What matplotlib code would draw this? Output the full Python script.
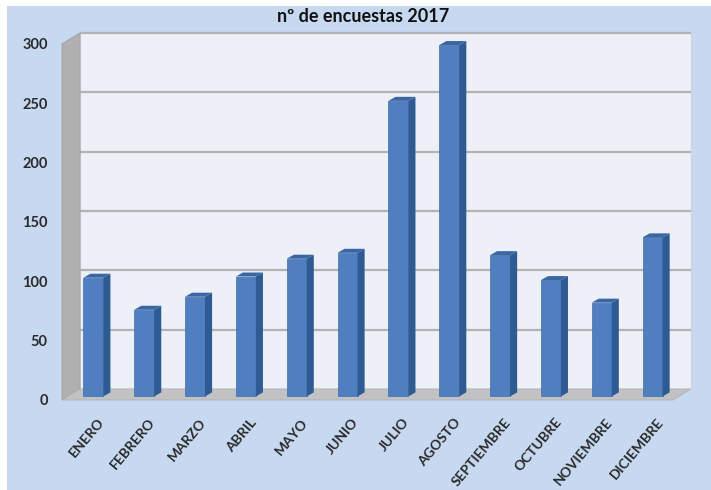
import numpy as np
import matplotlib
matplotlib.use("Agg")
import matplotlib.pyplot as plt
from matplotlib.patches import Polygon, Rectangle

# data
meses = ["ENERO", "FEBRERO", "MARZO", "ABRIL", "MAYO", "JUNIO", "JULIO",
         "AGOSTO", "SEPTIEMBRE", "OCTUBRE", "NOVIEMBRE", "DICIEMBRE"]
encuestas = [100, 73, 84, 101, 116, 121, 249, 296, 119, 98, 79, 134]
yticks = [0, 50, 100, 150, 200, 250, 300]
titulo = "nº de encuestas 2017"

fam = ["Lato", "DejaVu Sans"]
bg = "#c6d9f0"

fig = plt.figure(figsize=(7.11, 4.90), dpi=100)
fig.patch.set_facecolor("white")
fig.patches.append(Rectangle((7 / 711, 0), 1, 1 - 6 / 490, transform=fig.transFigure,
                             facecolor=bg, edgecolor="none", zorder=-10))

ax = fig.add_axes([56 / 711, 78 / 490, 644 / 711, 384 / 490])
ax.set_facecolor("none")
ax.set_xlim(-0.734, 11.933)
ax.set_ylim(-10.11, 313.4)
for s in ax.spines.values():
    s.set_visible(False)

# 3d box geometry (data units)
xl, xr = -0.616, 11.40
dx, dy = 0.354, 9.3
ymax = yticks[-1]

# back wall
ax.add_patch(Polygon([(xl + dx, dy), (xr + dx, dy), (xr + dx, ymax + dy), (xl + dx, ymax + dy)],
                     closed=True, facecolor="#edf0f7", edgecolor="#d0d3da", lw=0.8, zorder=1))
for t in yticks[1:]:
    ax.plot([xl + dx, xr + dx], [t + dy, t + dy], color="#b3b3b3", lw=1.6, zorder=2,
            solid_capstyle="butt")
# left wall
ax.add_patch(Polygon([(xl, 0), (xl + dx, dy), (xl + dx, ymax + dy), (xl, ymax)],
                     closed=True, facecolor="#b0b0b0", edgecolor="#a0a0a0", lw=0.6, zorder=2))
# floor
ax.add_patch(Polygon([(xl, 0), (xr, 0), (xr + dx, dy), (xl + dx, dy)],
                     closed=True, facecolor="#c2c2c2", edgecolor="#b0b0b0", lw=0.6, zorder=2))

# bars
x = np.arange(len(meses))
w = 0.393
bdx, bdy = 0.14, 3.4
base = 3.0
ax.bar(x, encuestas, width=w, bottom=base, color="#4f7fc1", edgecolor="#3f6eaa",
       linewidth=0.5, zorder=4)
for xi, v in zip(x, encuestas):
    r = xi + w / 2
    l = xi - w / 2
    top = v + base
    ax.add_patch(Polygon([(r, base), (r + bdx, base + bdy), (r + bdx, top + bdy), (r, top)],
                         closed=True, facecolor="#2f5b95", edgecolor="none", zorder=4))
    ax.add_patch(Polygon([(l, top), (r, top), (r + bdx, top + bdy), (l + bdx, top + bdy)],
                         closed=True, facecolor="#3a67a4", edgecolor="none", zorder=4))

ax.set_yticks(yticks)
ax.set_yticklabels([str(t) for t in yticks], fontfamily=fam, fontweight="bold",
                   fontsize=10.5, color="#2a2a2a")
ax.set_xticks(x + 0.08)
ax.set_xticklabels(meses, rotation=50, ha="right", rotation_mode="anchor",
                   fontfamily=fam, fontweight="bold", fontsize=10, color="#2a2a2a")
ax.tick_params(axis="both", length=0)
ax.tick_params(axis="y", pad=6)
ax.tick_params(axis="x", pad=3)

fig.text(363 / 711, 1 - 22 / 490, titulo, ha="center", va="baseline",
         fontfamily=fam, fontweight="bold", fontsize=13, color="#111111")

fig.savefig("out.png", dpi=100, facecolor=fig.get_facecolor())
